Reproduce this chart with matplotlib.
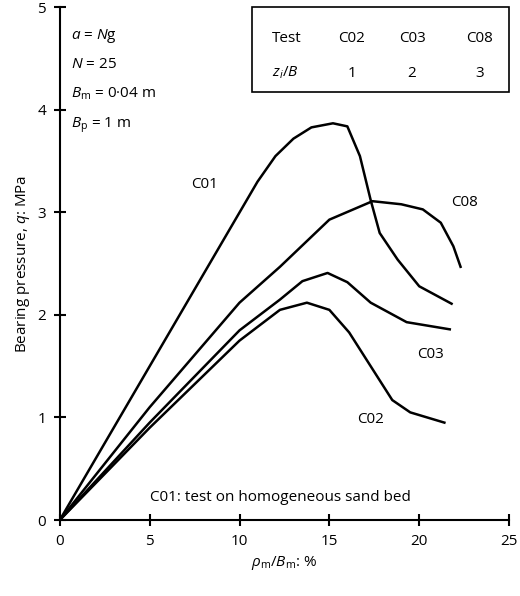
import matplotlib
matplotlib.use('Agg')
from matplotlib import pyplot as plt
from matplotlib.patches import Rectangle

plt.rcParams['font.family'] = ['Open Sans', 'DejaVu Sans']
plt.rcParams['mathtext.fontset'] = 'custom'
plt.rcParams['mathtext.rm'] = 'Open Sans'
plt.rcParams['mathtext.it'] = 'Open Sans:italic'

# curve data
c01_x = [0, 4, 8, 10, 11, 12, 13, 14, 15.2, 16, 16.7, 17.3, 17.8, 18.8, 20, 21.8]
c01_y = [0, 1.2, 2.4, 3.0, 3.3, 3.55, 3.72, 3.83, 3.87, 3.84, 3.55, 3.12, 2.8, 2.54, 2.28, 2.11]
c08_x = [0, 5, 10, 12.25, 15, 17.4, 19, 20.2, 21.2, 21.9, 22.3]
c08_y = [0, 1.1, 2.12, 2.47, 2.93, 3.11, 3.08, 3.03, 2.9, 2.67, 2.47]
c03_x = [0, 5, 10, 12.25, 13.5, 14.9, 16, 17.3, 19.3, 21.7]
c03_y = [0, 0.95, 1.85, 2.15, 2.33, 2.41, 2.32, 2.12, 1.93, 1.86]
c02_x = [0, 5, 10, 12.25, 13.75, 15, 16.1, 17.3, 18.5, 19.5, 21.4]
c02_y = [0, 0.9, 1.75, 2.05, 2.12, 2.05, 1.83, 1.5, 1.17, 1.05, 0.95]

tests = ['C02', 'C03', 'C08']
zi_b = ['1', '2', '3']

fig = plt.figure(figsize=(5.2, 5.96), dpi=100)
ax = fig.add_axes([0.115, 0.1275, 0.864, 0.86])
for xs, ys in [(c01_x, c01_y), (c08_x, c08_y), (c03_x, c03_y), (c02_x, c02_y)]:
    ax.plot(xs, ys, color='black', lw=1.8)

ax.set_xlim(0, 25)
ax.set_ylim(0, 5)
ax.set_xticks([0, 5, 10, 15, 20, 25])
ax.set_yticks([0, 1, 2, 3, 4, 5])
for s in ['top', 'right']:
    ax.spines[s].set_visible(False)
for s in ['left', 'bottom']:
    ax.spines[s].set_linewidth(1.5)
ax.tick_params(direction='inout', length=8, width=1.5, labelsize=11, pad=6)
ax.set_xlabel(r'$\it{\rho}_{\rm m}/\it{B}_{\rm m}$: %', fontsize=11)
ax.set_ylabel(r'Bearing pressure, $\it{q}$: MPa', fontsize=11)

kw = dict(fontsize=11)
ax.text(8.07, 3.27, 'C01', ha='center', va='center', **kw)
ax.text(22.5, 3.1, 'C08', ha='center', va='center', **kw)
ax.text(20.6, 1.61, 'C03', ha='center', va='center', **kw)
ax.text(17.3, 0.98, 'C02', ha='center', va='center', **kw)
ax.text(12.25, 0.22, 'C01: test on homogeneous sand bed', ha='center', va='center', **kw)

ax.text(0.6, 4.69, r'$\it{a}$ = $\it{N}$g', **kw)
ax.text(0.6, 4.41, r'$\it{N}$ = 25', **kw)
ax.text(0.6, 4.12, r'$\it{B}_{\rm m}$ = 0·04 m', **kw)
ax.text(0.6, 3.83, r'$\it{B}_{\rm p}$ = 1 m', **kw)

# table box top right
ax.add_patch(Rectangle((10.7, 4.18), 14.3, 0.82, fill=False, lw=1.2, clip_on=False))
ax.text(11.8, 4.7, 'Test', ha='left', va='center', **kw)
ax.text(11.8, 4.36, r'$\it{z}_{i}/\it{B}$', ha='left', va='center', **kw)
for xt, t, z in zip([16.25, 19.6, 23.35], tests, zi_b):
    ax.text(xt, 4.7, t, ha='center', va='center', **kw)
    ax.text(xt, 4.36, z, ha='center', va='center', **kw)

fig.savefig('out.png')
